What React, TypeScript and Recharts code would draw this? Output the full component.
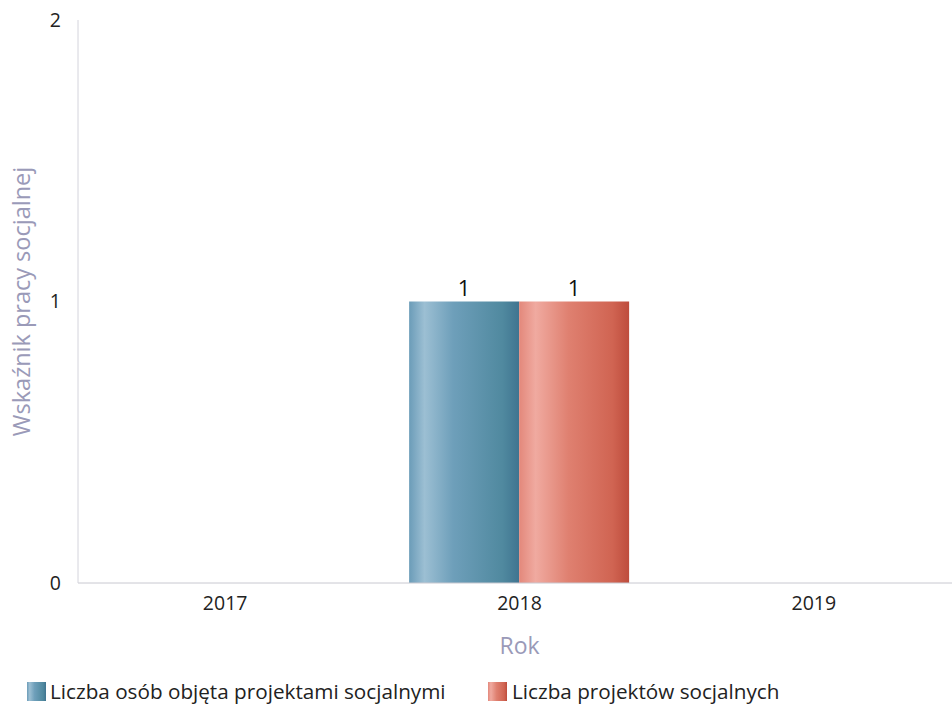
import React from "react";
import { BarChart, Bar, XAxis, YAxis, Legend, LabelList } from "recharts";

const years = ["2017", "2018", "2019"];
const osoby = [0, 1, 0];
const projekty = [0, 1, 0];
const yTicks = [0, 1, 2];

const data = years.map((y, i) => ({ year: y, osoby: osoby[i], projekty: projekty[i] }));

const FONT = "'Open Sans', sans-serif";

const renderLabel = (props: any) => {
  const { x, y, width, value } = props;
  if (!value) return null;
  return (
    <text x={x + width / 2} y={y - 6} textAnchor="middle" fontSize={22} fontFamily={FONT} fill="#111">
      {value}
    </text>
  );
};

const LegendContent = () => (
  <div style={{ position: "relative", height: 44, fontFamily: FONT, fontSize: 20.7, color: "#222", lineHeight: "30px" }}>
    <div style={{ position: "absolute", left: 27, top: 11, display: "flex", alignItems: "center" }}>
      <svg width={19} height={19} style={{ marginRight: 4 }}>
        <rect width={19} height={19} fill="url(#gBlue)" />
      </svg>
      <span>Liczba osób objęta projektami socjalnymi</span>
    </div>
    <div style={{ position: "absolute", left: 488, top: 11, display: "flex", alignItems: "center" }}>
      <svg width={19} height={19} style={{ marginRight: 5 }}>
        <rect width={19} height={19} fill="url(#gRed)" />
      </svg>
      <span>Liczba projektów socjalnych</span>
    </div>
  </div>
);

export default function App() {
  return (
    <div style={{ position: "absolute", left: 0, top: 0, background: "#fff" }}>
      <BarChart
        width={952}
        height={709}
        data={data}
        margin={{ top: 20, right: -9, left: 0, bottom: 0 }}
        barCategoryGap="12.5%"
        barGap={0}
      >
        <defs>
          <linearGradient id="gBlue" x1="0" y1="0" x2="1" y2="0">
            <stop offset="0%" stopColor="#6b9cb8" />
            <stop offset="14%" stopColor="#9cbfd3" />
            <stop offset="40%" stopColor="#6e9fba" />
            <stop offset="85%" stopColor="#50899f" />
            <stop offset="100%" stopColor="#3f7490" />
          </linearGradient>
          <linearGradient id="gRed" x1="0" y1="0" x2="1" y2="0">
            <stop offset="0%" stopColor="#e3887b" />
            <stop offset="15%" stopColor="#f0aaa0" />
            <stop offset="45%" stopColor="#df8070" />
            <stop offset="85%" stopColor="#d06452" />
            <stop offset="100%" stopColor="#be4c3c" />
          </linearGradient>
        </defs>
        <XAxis
          dataKey="year"
          axisLine={{ stroke: "#c8c8d0" }}
          tickLine={false}
          height={82}
          tick={{ fontSize: 19.5, fontFamily: FONT, fill: "#222" }}
          tickMargin={7}
          label={{ value: "Rok", position: "insideTop", dy: 50, fontSize: 23, fontFamily: FONT, fill: "#9a9ab8" }}
        />
        <YAxis
          domain={[0, 2]}
          ticks={yTicks}
          width={78}
          axisLine={{ stroke: "#d4d4dc" }}
          tickLine={false}
          tick={{ fontSize: 19.5, fontFamily: FONT, fill: "#222" }}
          tickMargin={11}
          label={{
            value: "Wskaźnik pracy socjalnej",
            angle: -90,
            position: "insideLeft",
            dx: 17,
            dy: 0,
            style: { textAnchor: "middle" },
            fontSize: 23.5,
            fontFamily: FONT,
            fill: "#9a9ab8",
          }}
        />
        <Legend verticalAlign="bottom" align="left" height={44} content={<LegendContent />} />
        <Bar dataKey="osoby" fill="url(#gBlue)" isAnimationActive={false}>
          <LabelList dataKey="osoby" content={renderLabel} />
        </Bar>
        <Bar dataKey="projekty" fill="url(#gRed)" isAnimationActive={false}>
          <LabelList dataKey="projekty" content={renderLabel} />
        </Bar>
      </BarChart>
    </div>
  );
}
